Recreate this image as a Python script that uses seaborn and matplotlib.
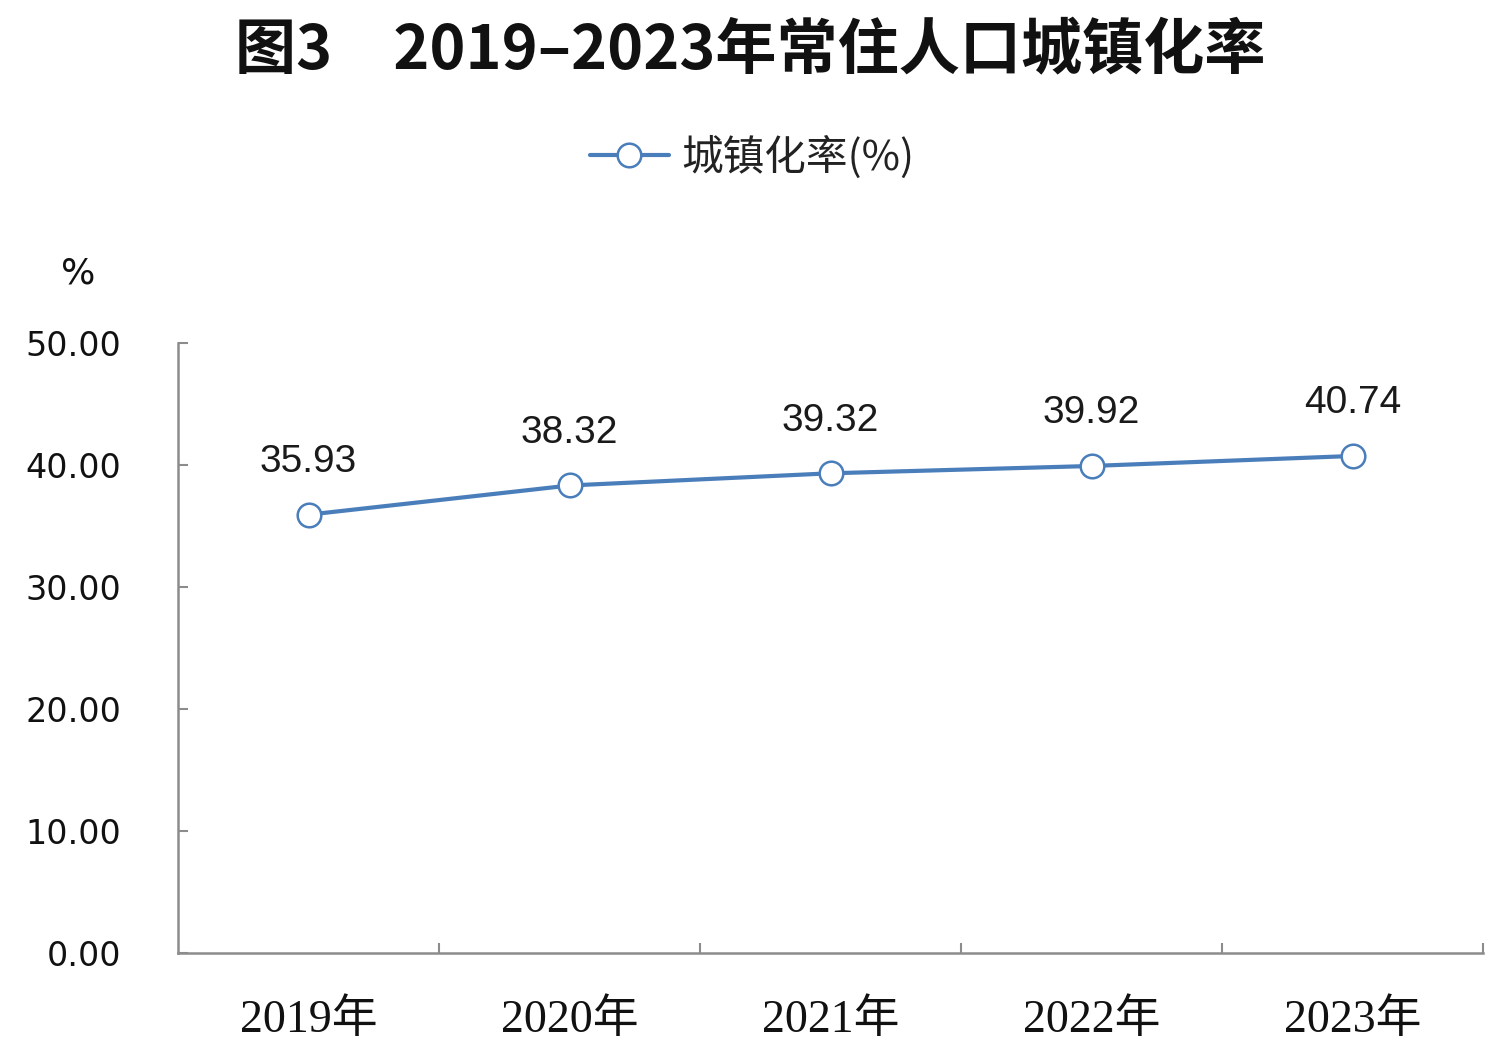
import numpy as np
import pandas as pd
import matplotlib
matplotlib.use('Agg')
import matplotlib.pyplot as plt
import seaborn as sns

# data
years = ['2019年', '2020年', '2021年', '2022年', '2023年']
rates = [35.93, 38.32, 39.32, 39.92, 40.74]
y_ticks = [0, 10, 20, 30, 40, 50]
title = '图3\u30002019–2023年常住人口城镇化率'
series_name = '城镇化率(%)'

df = pd.DataFrame({'year': years, 'rate': rates})

sns.set_theme(style='white')
plt.rcParams['font.family'] = ['Noto Sans CJK SC', 'DejaVu Sans']

LINE_C = '#4a7ebb'
SPINE_C = '#8c8c8c'

fig = plt.figure(figsize=(15.03, 10.56), dpi=100)
ax = fig.add_axes([178 / 1503, 1 - 953 / 1056, 1305 / 1503, 610 / 1056])

sns.lineplot(
    data=df, x='year', y='rate', ax=ax, sort=False,
    color=LINE_C, linewidth=3.0,
    marker='o', markersize=17, markerfacecolor='white',
    markeredgecolor=LINE_C, markeredgewidth=1.8,
    label=series_name,
)

# data labels
for i, v in enumerate(rates):
    ax.annotate(f'{v:.2f}', (i, v), xytext=(0, 38), textcoords='offset points',
                ha='center', va='center', fontsize=28,
                family=['Liberation Sans'], color='#1a1a1a')

ax.set_xlim(-0.5, len(years) - 0.5)
ax.set_ylim(0, 50)
ax.set_xlabel('')
ax.set_ylabel('')

# y axis
ax.set_yticks(y_ticks)
ax.set_yticklabels([f'{t:.2f}' for t in y_ticks], fontsize=24,
                   family=['DejaVu Sans'], color='#111111')
ax.tick_params(axis='y', direction='in', length=7, width=1.5,
               color=SPINE_C, pad=41, left=True)

# x axis: labels at centres, ticks at category boundaries
ax.set_xticks(range(len(years)))
ax.set_xticklabels(years, fontsize=33, family=['Liberation Serif', 'Noto Sans CJK SC'],
                   color='#111111')
ax.tick_params(axis='x', which='major', length=0, pad=33)
ax.set_xticks(np.arange(0.5, len(years), 1.0), minor=True)
ax.tick_params(axis='x', which='minor', direction='in', length=7, width=1.5,
               color=SPINE_C, bottom=True)

for side in ['top', 'right']:
    ax.spines[side].set_visible(False)
for side in ['left', 'bottom']:
    ax.spines[side].set_color(SPINE_C)
    ax.spines[side].set_linewidth(1.8)

# % unit label
fig.text(78 / 1503, 1 - 273 / 1056, '%', ha='center', va='center',
         fontsize=26, family=['DejaVu Sans'], color='#111111')

# title
fig.text(750 / 1503, 1 - 52 / 1056, title, ha='center', va='center',
         fontsize=44, fontweight='bold', color='#111111')

# legend
leg = ax.legend(loc='center', bbox_to_anchor=(752 / 1503, 1 - 157 / 1056),
                bbox_transform=fig.transFigure, frameon=False, fontsize=30,
                handlelength=1.9, handletextpad=0.3, borderpad=0)
for t in leg.get_texts():
    t.set_color('#222222')

plt.savefig('out.png', dpi=100)
plt.close(fig)
